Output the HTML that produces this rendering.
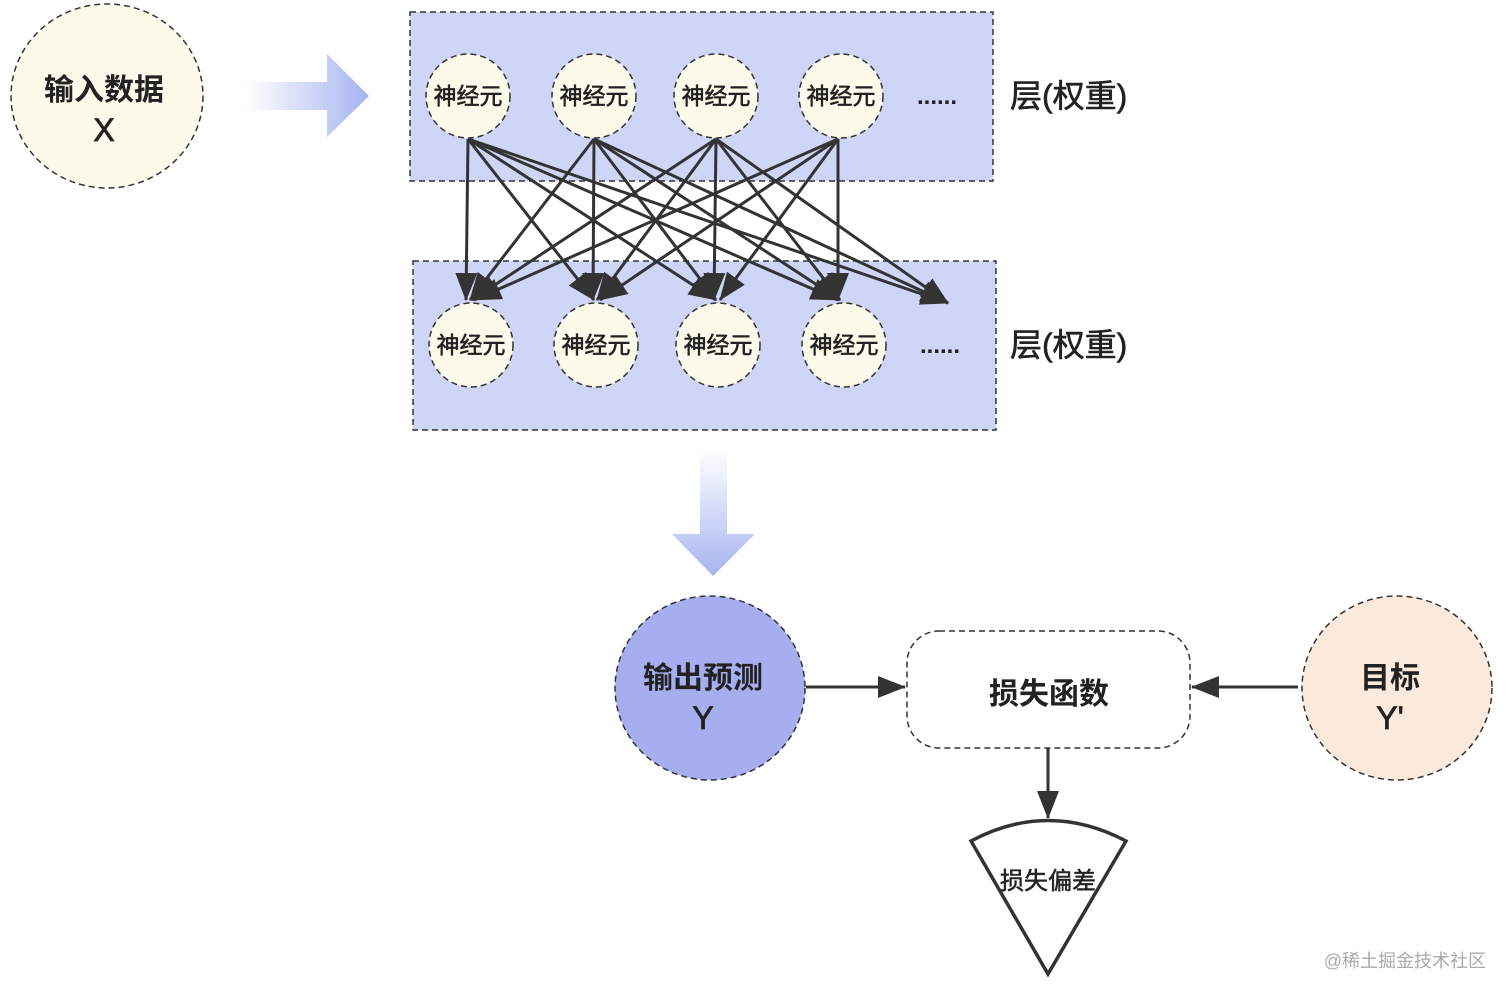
<!DOCTYPE html>
<html><head><meta charset="utf-8"><style>
body{margin:0;background:#fff}
text{font-family:"Liberation Sans","Noto Sans CJK SC",sans-serif;fill:#222}
</style></head><body>
<svg width="1512" height="997" viewBox="0 0 1512 997" xmlns="http://www.w3.org/2000/svg">
<defs>
<linearGradient id="gr" x1="0" x2="1" y1="0" y2="0"><stop offset="0" stop-color="#a6b4f0" stop-opacity="0"/><stop offset="1" stop-color="#a6b4f0"/></linearGradient>
<linearGradient id="gd" x1="0" x2="0" y1="0" y2="1"><stop offset="0" stop-color="#a6b4f0" stop-opacity="0"/><stop offset="1" stop-color="#a6b4f0"/></linearGradient>
<marker id="ab" markerWidth="28" markerHeight="22" refX="27" refY="11" orient="auto" markerUnits="userSpaceOnUse"><path d="M0,0 L28,11 L0,22 Z" fill="#333"/></marker>
</defs>
<g stroke="#333" stroke-width="1.5" stroke-dasharray="6,4">
<ellipse cx="107" cy="96" rx="96" ry="92" fill="#fbfaeb"/>
<rect x="410" y="12" width="583" height="169" fill="#cfd5f7"/>
<rect x="413" y="261" width="583" height="169" fill="#cfd5f7"/>
</g>
<text x="104" y="100" font-size="30" text-anchor="middle" font-weight="bold">输入数据</text>
<text x="104" y="141" font-size="32" text-anchor="middle" stroke="#222" stroke-width="0.8">X</text>
<path d="M245,82 H327 V54 L369,96 L327,137 V110 H245 Z" fill="url(#gr)"/>
<path d="M700,450 V534 H672 L713,576 L755,534 H727 V450 Z" fill="url(#gd)"/>
<g stroke="#333" stroke-width="1.5" stroke-dasharray="6,4" fill="#fbfaeb">
<ellipse cx="468" cy="96" rx="42" ry="42"/><ellipse cx="594" cy="96" rx="42" ry="42"/><ellipse cx="716" cy="96" rx="42" ry="42"/><ellipse cx="841" cy="96" rx="42" ry="42"/>
<ellipse cx="471" cy="345" rx="42" ry="42"/><ellipse cx="596" cy="345" rx="42" ry="42"/><ellipse cx="718" cy="345" rx="42" ry="42"/><ellipse cx="844" cy="345" rx="42" ry="42"/>
</g>
<g font-size="23" text-anchor="middle" stroke="#222" stroke-width="0.6">
<text x="468" y="104">神经元</text><text x="594" y="104">神经元</text><text x="716" y="104">神经元</text><text x="841" y="104">神经元</text>
<text x="471" y="353">神经元</text><text x="596" y="353">神经元</text><text x="718" y="353">神经元</text><text x="844" y="353">神经元</text>
</g>
<text x="937" y="104" font-size="24" text-anchor="middle" font-weight="bold">......</text>
<text x="940" y="353" font-size="24" text-anchor="middle" font-weight="bold">......</text>
<text x="1010" y="107" font-size="32" stroke="#222" stroke-width="0.6">层(权重)</text>
<text x="1010" y="356" font-size="32" stroke="#222" stroke-width="0.6">层(权重)</text>
<g stroke="#333" stroke-width="3" marker-end="url(#ab)">
<line x1="468" y1="139" x2="466" y2="300"/><line x1="468" y1="139" x2="594" y2="300"/><line x1="468" y1="139" x2="716" y2="300"/><line x1="468" y1="139" x2="838" y2="300"/><line x1="468" y1="139" x2="948" y2="303"/>
<line x1="594" y1="139" x2="470" y2="300"/><line x1="594" y1="139" x2="593" y2="300"/><line x1="594" y1="139" x2="716" y2="300"/><line x1="594" y1="139" x2="840" y2="300"/><line x1="594" y1="139" x2="948" y2="303"/>
<line x1="716" y1="139" x2="472" y2="300"/><line x1="716" y1="139" x2="597" y2="300"/><line x1="716" y1="139" x2="714" y2="300"/><line x1="716" y1="139" x2="840" y2="300"/><line x1="716" y1="139" x2="948" y2="303"/>
<line x1="838" y1="139" x2="474" y2="300"/><line x1="838" y1="139" x2="600" y2="300"/><line x1="838" y1="139" x2="720" y2="300"/><line x1="838" y1="139" x2="838" y2="300"/>
</g>
<g stroke="#333" stroke-width="1.5" stroke-dasharray="6,4">
<ellipse cx="710" cy="688" rx="95" ry="92" fill="#a6aef0"/>
<rect x="907" y="631" width="283" height="117" rx="32" fill="#fff"/>
<ellipse cx="1397" cy="688" rx="95" ry="92" fill="#fbeadc"/>
</g>
<text x="703" y="688" font-size="30" text-anchor="middle" font-weight="bold">输出预测</text>
<text x="703" y="729" font-size="32" text-anchor="middle" stroke="#222" stroke-width="0.8">Y</text>
<text x="1049" y="704" font-size="30" text-anchor="middle" font-weight="bold">损失函数</text>
<text x="1390" y="688" font-size="30" text-anchor="middle" font-weight="bold">目标</text>
<text x="1390" y="729" font-size="32" text-anchor="middle" stroke="#222" stroke-width="0.8">Y'</text>
<g stroke="#333" stroke-width="3">
<line x1="806" y1="687" x2="905" y2="687" marker-end="url(#ab)"/>
<line x1="1298" y1="687" x2="1192" y2="687" marker-end="url(#ab)"/>
<line x1="1048" y1="748" x2="1048" y2="818" marker-end="url(#ab)"/>
<path d="M971,841 Q1048,800 1126,841 L1048,974 Z" fill="#fff" stroke-width="3.5"/>
</g>
<text x="1048" y="889" font-size="24" text-anchor="middle" stroke="#222" stroke-width="0.5">损失偏差</text>
<text x="1486" y="967" font-size="18" text-anchor="end" style="fill:#aaa">@稀土掘金技术社区</text>
</svg>
</body></html>
